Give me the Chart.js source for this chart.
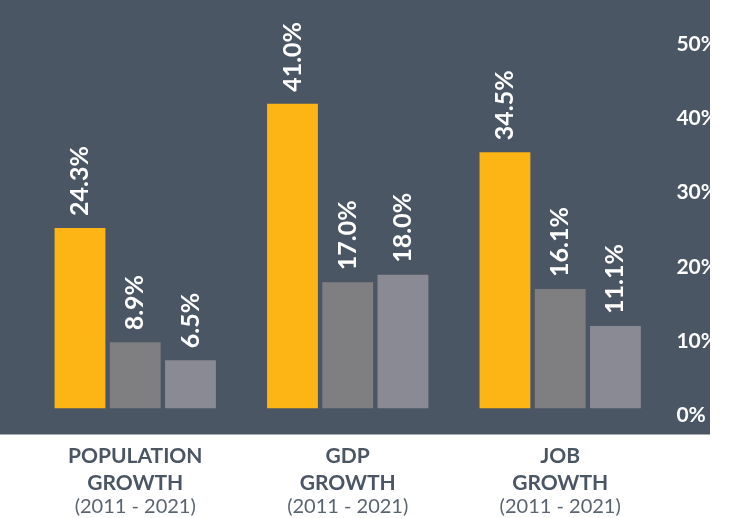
<!DOCTYPE html>
<html>
<head>
<meta charset="utf-8">
<script src="https://cdn.jsdelivr.net/npm/chart.js@4"></script>
<style>
  html, body { margin: 0; padding: 0; background: #fff; }
  #wrap { width: 735px; height: 518px; }
</style>
</head>
<body>
<div id="wrap"><canvas id="chart" width="735" height="518"></canvas></div>
<script>
// chart data
const categories = [["POPULATION", "GROWTH"], ["GDP", "GROWTH"], ["JOB", "GROWTH"]];
const periods = ["(2011 - 2021)", "(2011 - 2021)", "(2011 - 2021)"];
const seriesA = [24.3, 41.0, 34.5];
const seriesB = [8.9, 17.0, 16.1];
const seriesC = [6.5, 18.0, 11.1];
const yTicks = [0, 10, 20, 30, 40, 50];

const PANEL = "#4b5665";
const SLATE = "#4b5665";

// dark panel behind the plot, ends short of the right edge
const panelPlugin = {
  id: "panel",
  beforeDraw(chart) {
    const ctx = chart.ctx;
    ctx.save();
    ctx.fillStyle = PANEL;
    ctx.fillRect(0, 0, 710, chart.chartArea.bottom + 26);
    ctx.restore();
  },
};

// rotated value labels above each bar
const valueLabels = {
  id: "valueLabels",
  afterDatasetsDraw(chart) {
    const ctx = chart.ctx;
    ctx.save();
    ctx.fillStyle = "#fff";
    ctx.font = "bold 25px Lato";
    ctx.textAlign = "left";
    ctx.textBaseline = "middle";
    chart.data.datasets.forEach((ds, i) => {
      chart.getDatasetMeta(i).data.forEach((bar, j) => {
        ctx.save();
        ctx.translate(bar.x, bar.y - 12);
        ctx.rotate(-Math.PI / 2);
        ctx.fillText(ds.data[j].toFixed(1) + "%", 0, 0);
        ctx.restore();
      });
    });
    ctx.restore();
  },
};

const ctx = document.getElementById("chart").getContext("2d");
new Chart(ctx, {
  type: "bar",
  data: {
    labels: categories,
    datasets: [
      { label: "Series A", data: seriesA, backgroundColor: "#fdb515" },
      { label: "Series B", data: seriesB, backgroundColor: "#7f7f81" },
      { label: "Series C", data: seriesC, backgroundColor: "#8a8a95" },
    ].map((d) => Object.assign({ barPercentage: 0.92, categoryPercentage: 0.78, borderWidth: 0 }, d)),
  },
  options: {
    responsive: false,
    animation: false,
    layout: { padding: { left: 29, right: 15, top: 37, bottom: 0 } },
    plugins: { legend: { display: false }, tooltip: { enabled: false } },
    scales: {
      x: {
        // invisible tick marks give the gap between panel and labels
        grid: { display: true, color: "transparent", drawTicks: true, tickLength: 35 },
        border: { display: false },
        ticks: {
          color: SLATE,
          font: { family: "Lato", size: 21, weight: "bold", lineHeight: 1.25 },
          padding: 0,
          maxRotation: 0,
          autoSkip: false,
        },
      },
      x2: {
        type: "category",
        labels: periods,
        position: "bottom",
        offset: true,
        grid: { display: false, drawTicks: false },
        border: { display: false },
        ticks: {
          color: "#5a6470",
          font: { family: "Lato", size: 20, lineHeight: 1.1 },
          padding: 0,
          maxRotation: 0,
          autoSkip: false,
        },
      },
      y: {
        position: "right",
        min: yTicks[0],
        max: yTicks[yTicks.length - 1],
        grid: { display: false },
        border: { display: false },
        afterBuildTicks: (scale) => { scale.ticks = yTicks.map((v) => ({ value: v })); },
        ticks: {
          color: "#fff",
          font: { family: "Lato", size: 21, weight: "bold" },
          padding: 2,
          labelOffset: 7,
          callback: (v) => v + "%",
        },
      },
    },
  },
  plugins: [panelPlugin, valueLabels],
});
</script>
</body>
</html>
